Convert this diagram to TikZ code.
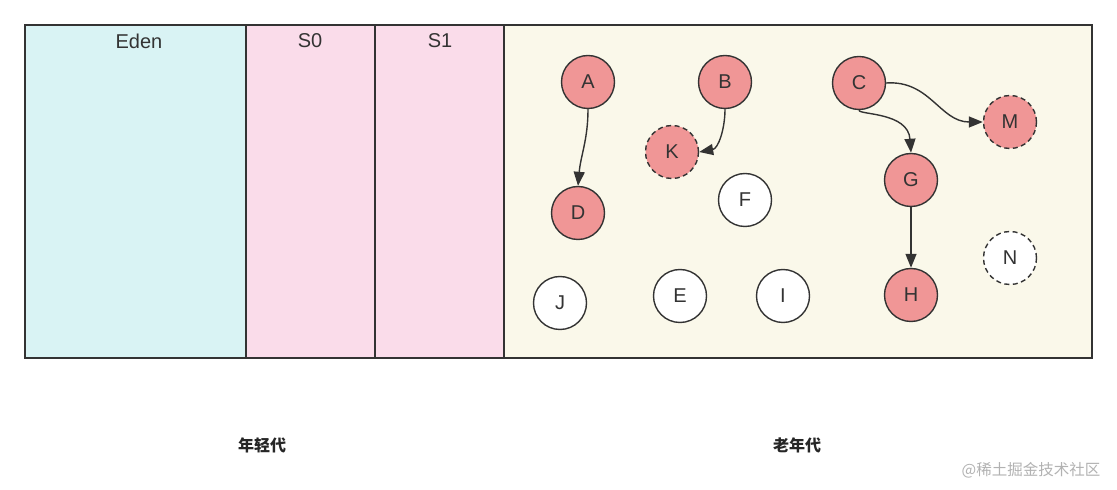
\documentclass[tikz,border=0pt]{standalone}
\usepackage{fontspec}
\setmainfont{Liberation Sans}
\newfontfamily\cjk{Noto Sans CJK SC}
\usetikzlibrary{arrows.meta}
\definecolor{edenc}{HTML}{D9F3F4}
\definecolor{survc}{HTML}{FADCEA}
\definecolor{oldc}{HTML}{FAF8EA}
\definecolor{livec}{HTML}{F09696}
\definecolor{linec}{HTML}{333333}
\begin{document}
\begin{tikzpicture}[x=1pt,y=1pt,
  region/.style={draw=linec,line width=1.5pt},
  regionlabel/.style={text=linec,font=\fontsize{20}{22}\selectfont,anchor=center},
  obj/.style={circle,draw=linec,line width=1.4pt,minimum size=53pt,inner sep=0pt,text=linec,font=\fontsize{20}{22}\selectfont},
  live/.style={obj,fill=livec},
  dead/.style={obj,fill=white},
  gone/.style={dash pattern=on 5pt off 3.5pt},
  ref/.style={draw=linec,line width=1.4pt,-{Triangle[length=14pt,width=11pt]}},
  gen/.style={font=\cjk\bfseries\fontsize{16}{18}\selectfont,text=black!85}
]
\useasboundingbox (0,0) rectangle (1117,490);
\fill[white] (0,0) rectangle (1117,490);
% regions
\path[region,fill=edenc] (25,132) rectangle (246,465);
\path[region,fill=survc] (246,132) rectangle (375,465);
\path[region,fill=survc] (375,132) rectangle (504,465);
\path[region,fill=oldc] (504,132) rectangle (1092,465);
\node[regionlabel] (eden) at (139,449) {Eden};
\node[regionlabel] (s0) at (310,449) {S0};
\node[regionlabel] (s1) at (440,449) {S1};
% objects
\node[live] (A) at (588,408) {A};
\node[live] (B) at (725,408) {B};
\node[live] (C) at (859,407) {C};
\node[live,gone] (K) at (672,338) {K};
\node[live,gone] (M) at (1010,368) {M};
\node[live] (D) at (578,277) {D};
\node[live] (G) at (911,310) {G};
\node[live] (H) at (911,195) {H};
\node[dead] (F) at (745,290) {F};
\node[dead,gone] (N) at (1010,232) {N};
\node[dead] (J) at (560,187) {J};
\node[dead] (E) at (680,194) {E};
\node[dead] (I) at (783,194) {I};
% references
\draw[ref] (A.south) to[out=-90,in=85] (D.north);
\draw[ref] (B.south) to[out=-90,in=10] (K.east);
\draw[ref] (C.east) .. controls (930,410) and (940,368) .. (M.west);
\draw[ref] (C.south) .. controls (859,375) and (908,378) .. (G.north);
\draw[ref] (G.south) -- (H.north);
% labels
\node[gen] (young) at (262,45) {年轻代};
\node[gen] (old) at (797,45) {老年代};
\node[font=\cjk\fontsize{15.5}{17}\selectfont,text=black!30] (wm) at (1031,20) {@稀土掘金技术社区};
\end{tikzpicture}
\end{document}
